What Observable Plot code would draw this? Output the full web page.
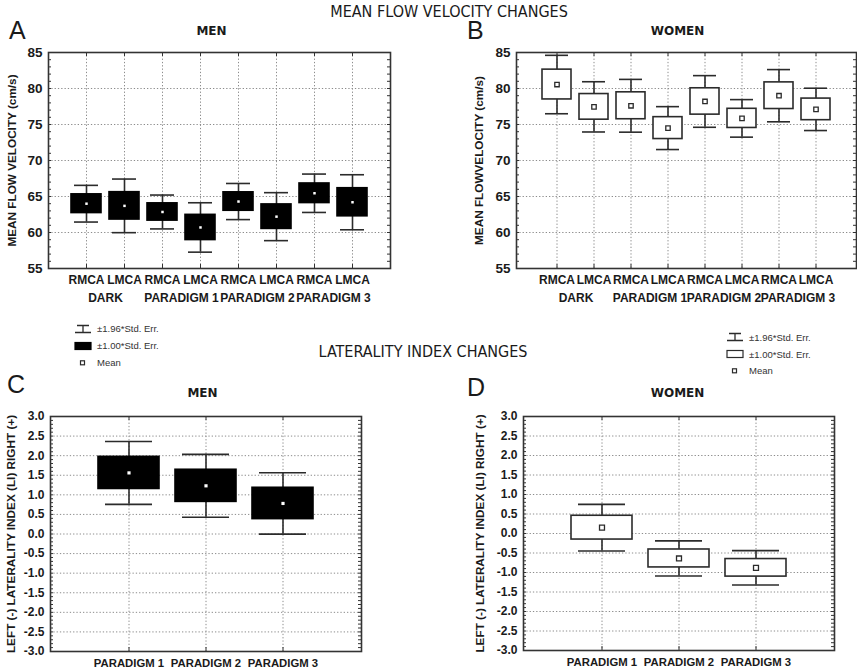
<!DOCTYPE html>
<html><head><meta charset="utf-8">
<script src="https://cdn.jsdelivr.net/npm/d3@7"></script>
<script src="https://cdn.jsdelivr.net/npm/@observablehq/plot@0.6"></script>
<style>
body{margin:0;background:#fff;}
#root{position:relative;width:857px;height:672px;overflow:hidden;background:#fff;font-family:'Liberation Sans',Arial,sans-serif;color:#111;}
.abs{position:absolute;white-space:nowrap;line-height:1;}
.title{font-size:16px;line-height:0.9;transform:translateX(-50%);color:#1a1a1a;}
.letter{font-size:25px;line-height:0.75;color:#1a1a1a;}
.ptitle{font-family:'DejaVu Sans',sans-serif;font-weight:bold;font-size:12px;transform:translateX(-50%);color:#1a1a1a;}
.leg{font-size:9.5px;color:#333;}
svg.plot{position:absolute;}
</style></head>
<body><div id="root"></div>
<script>
// ---------------- data ----------------
const vessels = ["RMCA","LMCA","RMCA","LMCA","RMCA","LMCA","RMCA","LMCA"];
const conditions = ["DARK","DARK","PARADIGM 1","PARADIGM 1","PARADIGM 2","PARADIGM 2","PARADIGM 3","PARADIGM 3"];
const conditionLabels = ["DARK","PARADIGM 1","PARADIGM 2","PARADIGM 3"];
const flowTicks = [55,60,65,70,75,80,85];
const menMean   = [64.0, 63.7, 62.85, 60.7, 64.3, 62.2, 65.45, 64.2];
const menSE     = [1.30, 1.90, 1.20, 1.75, 1.28, 1.70, 1.36, 1.95];
const womenMean = [80.55, 77.45, 77.6, 74.5, 78.2, 75.85, 79.0, 77.1];
const womenSE   = [2.07, 1.78, 1.87, 1.52, 1.83, 1.33, 1.85, 1.50];
const paradigms = ["PARADIGM 1","PARADIGM 2","PARADIGM 3"];
const liTicks = [-3.0,-2.5,-2.0,-1.5,-1.0,-0.5,0.0,0.5,1.0,1.5,2.0,2.5,3.0];
const liMenMean   = [1.56, 1.23, 0.78];
const liMenSE     = [0.41, 0.41, 0.40];
const liWomenMean = [0.15, -0.64, -0.88];
const liWomenSE   = [0.305, 0.23, 0.225];
const whiskerFactor = 1.96, boxFactor = 1.00;
const legendLabels = ["\u00b11.96*Std. Err.", "\u00b11.00*Std. Err.", "Mean"];

// ---------------- fonts ----------------
function hasFont(name){
  const c = document.createElement("canvas").getContext("2d");
  const s = "PARADIGM 1 LATERALITY";
  c.font = "bold 20px monospace"; const w0 = c.measureText(s).width;
  c.font = `bold 20px '${name}', monospace`; return Math.abs(c.measureText(s).width - w0) > 0.5;
}
const NARROW = hasFont("Liberation Sans Narrow");
const narrowFam = NARROW ? "'Liberation Sans Narrow', 'Liberation Sans', Arial, sans-serif" : "'Liberation Sans', Arial, sans-serif";
const nk = NARROW ? 1 : 0.84;
const CONDENSED = hasFont("DejaVu Sans Condensed");

const root = document.getElementById("root");
const ink = "#2b2b2b";

function makePanel(o){
  const lo = d => d.mean - whiskerFactor*d.se, hi = d => d.mean + whiskerFactor*d.se;
  const blo = d => d.mean - boxFactor*d.se, bhi = d => d.mean + boxFactor*d.se;
  const gridStyle = {stroke:"#8c8c8c", strokeOpacity:1, strokeDasharray:"1.3,2", strokeWidth:1};
  const fw = o.width - o.ml - o.mr, fh = o.height - o.mt - o.mb;
  const minor = d3.range(o.yDomain[0], o.yDomain[1] + o.minorStep/2, o.minorStep);
  const edge = {stroke:"#333", strokeWidth:1};
  const marks = [
    Plot.gridX(gridStyle),
    Plot.gridY(o.grid, gridStyle),
    Plot.tickY(minor, {y:d => d, insetRight:fw - 3, ...edge}),
    Plot.tickY(minor, {y:d => d, insetLeft:fw - 3, ...edge}),
    Plot.tickX(o.keys, {x:d => d, insetBottom:fh - 4, ...edge}),
    Plot.tickX(o.keys, {x:d => d, insetTop:fh - 4, ...edge}),
    Plot.ruleX(o.data, {x:"key", y1:lo, y2:hi, stroke:ink, strokeWidth:1.6}),
    Plot.tickY(o.data, {x:"key", y:lo, stroke:ink, strokeWidth:1.6, insetLeft:o.capInset, insetRight:o.capInset}),
    Plot.tickY(o.data, {x:"key", y:hi, stroke:ink, strokeWidth:1.6, insetLeft:o.capInset, insetRight:o.capInset}),
    Plot.barY(o.data, {x:"key", y1:blo, y2:bhi, fill:o.filled ? "#000" : "#fff", stroke:o.filled ? "#000" : ink, strokeWidth:1.6}),
    Plot.dot(o.data, {x:"key", y:"mean", symbol:"square", r:o.dotR, fill:"#fff", stroke:o.filled ? null : ink, strokeWidth:1.3}),
    Plot.frame({stroke:"#333", strokeWidth:1.6}),
    Plot.axisX({tickSize:0, tickPadding:o.xPad, tickFormat:o.xFmt, label:null, fontSize:o.xFont, fontFamily:o.xFam}),
    Plot.axisY({ticks:o.ticks, tickSize:0, tickPadding:6, tickFormat:o.yFmt, label:null, fontSize:o.yFont, fontFamily:o.yFam}),
    Plot.text([o.ylabel], {frameAnchor:"left", textAnchor:"middle", lineAnchor:"middle", rotate:-90, dx:-o.ylabelOffset, fontSize:o.ylabelFont, fontFamily:narrowFam, fill:"#1a1a1a"})
  ];
  if (o.groups) marks.push(Plot.text(o.groups, {x:"key", text:"label", frameAnchor:"bottom", textAnchor:"middle", dx:o.groupDx, dy:33, fontSize:12}));
  const svg = Plot.plot({
    width:o.width, height:o.height,
    marginLeft:o.ml, marginRight:o.mr, marginTop:o.mt, marginBottom:o.mb,
    x:{type:"band", domain:o.keys, paddingInner:o.pi, paddingOuter:o.po},
    y:{domain:o.yDomain},
    style:{fontFamily:"'Liberation Sans', Arial, sans-serif", fontSize:"12px", fontWeight:"bold", color:"#1a1a1a", background:"transparent", overflow:"visible"},
    marks
  });
  svg.classList.add("plot");
  svg.style.left = o.left + "px"; svg.style.top = o.top + "px";
  root.appendChild(svg);
}

const flowKeys = vessels.map((v,i) => conditions[i] + "|" + v);
const flowGroups = conditionLabels.map(c => ({label:c, key:flowKeys[conditions.indexOf(c)]}));
const rows = (keys, means, ses) => keys.map((k,i) => ({key:k, mean:means[i], se:ses[i]}));
const vesselFmt = k => k.split("|")[1];

const flowCommon = {keys:flowKeys, yDomain:[55,85], ticks:flowTicks, grid:flowTicks.slice(1,-1), minorStep:1,
  pi:0.21, po:0.605, capInset:3, xPad:7, xFmt:vesselFmt, xFont:12, yFont:13.5,
  yFmt:d => String(d), groups:flowGroups, groupDx:19, ylabelFont:14*nk, height:275, top:40, mt:12, mb:47};

makePanel({...flowCommon, data:rows(flowKeys, menMean, menSE), filled:true, dotR:1.4,
  width:420, left:0, ml:48, mr:30, ylabel:"MEAN FLOW VELOCITY (cm/s)", ylabelOffset:36});
makePanel({...flowCommon, data:rows(flowKeys, womenMean, womenSE), filled:false, dotR:2.5,
  width:427, left:430, ml:86, mr:1, ylabel:"MEAN FLOWVELOCITY (cm/s)", ylabelOffset:37});

const liCommon = {keys:paradigms, yDomain:[-3,3], ticks:liTicks, grid:liTicks.slice(1,-1), minorStep:0.1,
  pi:0.205, po:0.6025, capInset:7, xPad:7, xFmt:d => d, xFont:13.5*nk, xFam:narrowFam,
  yFont:12, yFam:narrowFam, yFmt:d => d.toFixed(1), ylabelFont:14*nk, height:272, top:400, mt:16};

makePanel({...liCommon, data:rows(paradigms, liMenMean, liMenSE), filled:true, dotR:1.8,
  width:430, left:0, ml:50, mr:69, mb:21, ylabel:"LEFT (-) LATERALITY INDEX (LI) RIGHT (+)", ylabelOffset:39});
makePanel({...liCommon, data:rows(paradigms, liWomenMean, liWomenSE), filled:false, dotR:2.8,
  width:427, left:430, ml:93, mr:23, mb:22, ylabel:"LEFT (-) LATERALITY INDEX (LI) RIGHT (+)", ylabelOffset:43});

// ---------------- text ----------------
function addText(cls, text, left, top, extra){
  const d = document.createElement("div");
  d.className = "abs " + cls; d.textContent = text;
  d.style.left = left + "px"; d.style.top = top + "px";
  if (extra) Object.assign(d.style, extra);
  root.appendChild(d); return d;
}
const titleFam = CONDENSED ? "'DejaVu Sans Condensed', sans-serif" : "'Liberation Sans', Arial, sans-serif";
addText("title", "MEAN FLOW VELOCITY CHANGES", 449, 5.0, {fontFamily:titleFam});
addText("title", "LATERALITY INDEX CHANGES", 423, 345, {fontFamily:titleFam});
addText("letter", "A", 9, 20.5);
addText("letter", "B", 467, 20.5);
addText("letter", "C", 7, 375);
addText("letter", "D", 467, 377.9);
addText("ptitle", "MEN", 211.5, 25.2);
addText("ptitle", "WOMEN", 677.5, 25.2);
addText("ptitle", "MEN", 202.5, 387.2);
addText("ptitle", "WOMEN", 677.5, 387.2);

// ---------------- legends ----------------
function legend(x, ys, filled){
  const ns = "http://www.w3.org/2000/svg";
  const icon = (y, kind) => {
    const s = document.createElementNS(ns, "svg");
    s.setAttribute("width", 20); s.setAttribute("height", 12);
    s.style.position = "absolute"; s.style.left = (x - 2) + "px"; s.style.top = (y - 6) + "px";
    let html = "";
    if (kind === 0) html = `<path d="M4,2.5H16M10,2.5V9.5M2,9.5H18" stroke="${ink}" stroke-width="1.3" fill="none"/>`;
    if (kind === 1) html = `<rect x="2" y="2.5" width="16" height="7" fill="${filled ? "#000" : "#fff"}" stroke="${filled ? "#000" : ink}" stroke-width="1.2"/>`;
    if (kind === 2) html = `<rect x="7.5" y="3.8" width="4" height="4" fill="#fff" stroke="${ink}" stroke-width="1.2"/>`;
    s.innerHTML = html; root.appendChild(s);
  };
  ys.forEach((y, i) => { icon(y, i); addText("leg", legendLabels[i], x + 22, y - 4.8); });
}
legend(75, [329, 345.7, 362.7], true);
legend(727, [337.3, 354.3, 371], false);
</script>
</body></html>
